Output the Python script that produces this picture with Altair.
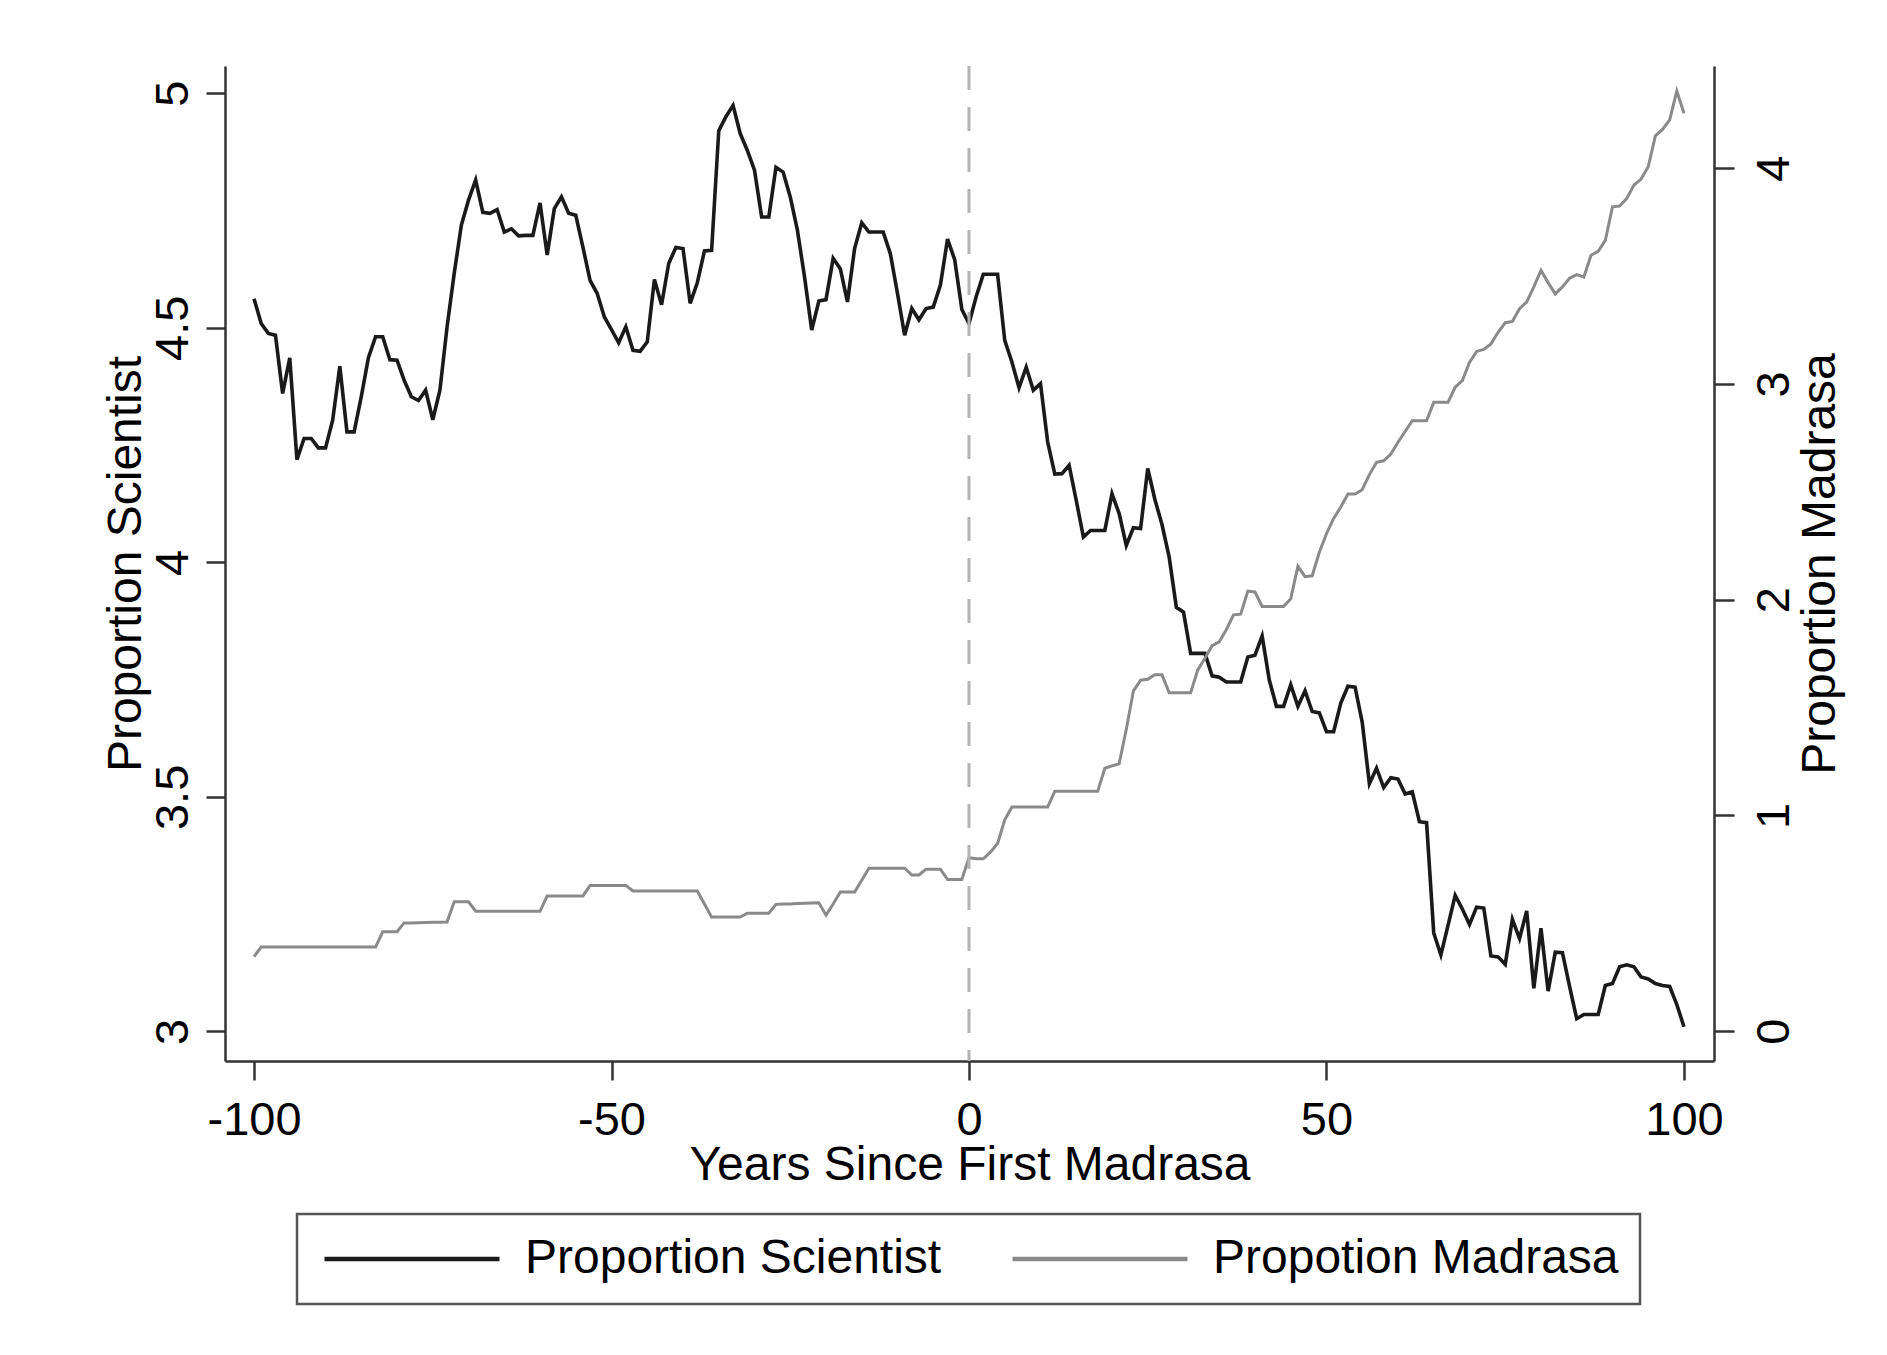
import altair as alt
import pandas as pd

# Years since first madrasa (-100 .. 100, yearly)
years = list(range(-100, 101))

# Proportion Scientist (left axis)
scientist = [
    4.562, 4.509, 4.488, 4.484, 4.360, 4.436, 4.219, 4.264, 4.264, 4.244,
    4.244, 4.303, 4.418, 4.278, 4.278, 4.353, 4.436, 4.481, 4.481, 4.432,
    4.431, 4.388, 4.353, 4.345, 4.367, 4.304, 4.367, 4.502, 4.616, 4.719,
    4.772, 4.815, 4.746, 4.744, 4.752, 4.704, 4.711, 4.696, 4.697, 4.697,
    4.766, 4.655, 4.754, 4.779, 4.744, 4.740, 4.672, 4.601, 4.573, 4.523,
    4.496, 4.468, 4.502, 4.452, 4.450, 4.470, 4.603, 4.549, 4.637, 4.671,
    4.669, 4.552, 4.596, 4.664, 4.665, 4.920, 4.950, 4.974, 4.914, 4.878,
    4.836, 4.736, 4.736, 4.842, 4.832, 4.779, 4.708, 4.608, 4.495, 4.557,
    4.560, 4.648, 4.626, 4.555, 4.669, 4.724, 4.704, 4.704, 4.704, 4.658,
    4.573, 4.484, 4.541, 4.517, 4.541, 4.544, 4.591, 4.689, 4.645, 4.539,
    4.509, 4.566, 4.614, 4.614, 4.614, 4.473, 4.427, 4.372, 4.416, 4.367,
    4.381, 4.257, 4.188, 4.189, 4.207, 4.132, 4.054, 4.068, 4.068, 4.068,
    4.146, 4.104, 4.036, 4.074, 4.072, 4.200, 4.134, 4.080, 4.011, 3.904,
    3.894, 3.806, 3.806, 3.806, 3.758, 3.755, 3.745, 3.745, 3.745, 3.798,
    3.802, 3.843, 3.749, 3.693, 3.693, 3.739, 3.693, 3.726, 3.682, 3.679,
    3.639, 3.639, 3.700, 3.736, 3.734, 3.659, 3.528, 3.561, 3.520, 3.541,
    3.538, 3.506, 3.511, 3.447, 3.445, 3.210, 3.163, 3.226, 3.290, 3.261,
    3.228, 3.265, 3.263, 3.161, 3.159, 3.143, 3.239, 3.198, 3.257, 3.092,
    3.220, 3.086, 3.169, 3.168, 3.096, 3.027, 3.036, 3.036, 3.036, 3.098,
    3.102, 3.138, 3.142, 3.138, 3.116, 3.112, 3.102, 3.098, 3.096, 3.057,
    3.010,
]

# Propotion Madrasa (right axis)
madrasa = [
    0.346, 0.390, 0.390, 0.390, 0.390, 0.390, 0.390, 0.390, 0.390, 0.390,
    0.390, 0.390, 0.390, 0.390, 0.390, 0.390, 0.390, 0.390, 0.461, 0.461,
    0.461, 0.502, 0.502, 0.503, 0.504, 0.505, 0.505, 0.506, 0.600, 0.600,
    0.600, 0.556, 0.556, 0.556, 0.556, 0.556, 0.556, 0.556, 0.556, 0.556,
    0.556, 0.627, 0.627, 0.627, 0.627, 0.627, 0.627, 0.676, 0.676, 0.676,
    0.676, 0.676, 0.676, 0.650, 0.650, 0.650, 0.650, 0.650, 0.650, 0.650,
    0.650, 0.650, 0.650, 0.590, 0.529, 0.529, 0.529, 0.529, 0.529, 0.547,
    0.547, 0.547, 0.547, 0.588, 0.590, 0.590, 0.592, 0.593, 0.594, 0.595,
    0.538, 0.590, 0.645, 0.645, 0.645, 0.700, 0.756, 0.756, 0.756, 0.756,
    0.756, 0.756, 0.724, 0.724, 0.751, 0.751, 0.751, 0.703, 0.703, 0.703,
    0.804, 0.799, 0.799, 0.830, 0.870, 0.980, 1.039, 1.039, 1.039, 1.039,
    1.039, 1.039, 1.112, 1.112, 1.112, 1.112, 1.112, 1.112, 1.112, 1.219,
    1.230, 1.240, 1.400, 1.578, 1.627, 1.631, 1.652, 1.652, 1.569, 1.569,
    1.569, 1.569, 1.675, 1.729, 1.787, 1.805, 1.862, 1.930, 1.933, 2.040,
    2.036, 1.969, 1.969, 1.969, 1.969, 2.004, 2.155, 2.107, 2.111, 2.220,
    2.306, 2.377, 2.430, 2.490, 2.490, 2.510, 2.580, 2.637, 2.644, 2.675,
    2.730, 2.780, 2.830, 2.830, 2.830, 2.915, 2.915, 2.915, 2.985, 3.016,
    3.100, 3.151, 3.160, 3.186, 3.240, 3.284, 3.290, 3.349, 3.380, 3.450,
    3.527, 3.470, 3.418, 3.450, 3.490, 3.507, 3.496, 3.597, 3.615, 3.666,
    3.821, 3.825, 3.860, 3.922, 3.950, 4.007, 4.150, 4.180, 4.224, 4.358,
    4.255,
]

series_names = ["Proportion Scientist", "Propotion Madrasa"]
series_colors = ["#1a1a1a", "#8a8a8a"]
x_ticks = [-100, -50, 0, 50, 100]
left_ticks = [3, 3.5, 4, 4.5, 5]
right_ticks = [0, 1, 2, 3, 4]
event_year = [0]

assert len(years) == len(scientist) == len(madrasa)

df = pd.DataFrame({"year": years, "scientist": scientist, "madrasa": madrasa})
df_event = pd.DataFrame({"event": event_year})

FONT = "Liberation Sans"
AXC = "#333333"

x_scale = alt.Scale(domain=[-104.06, 104.2], nice=False, zero=False)
x_axis = alt.Axis(
    values=x_ticks, labelExpr="'' + datum.value", title="Years Since First Madrasa",
    grid=False, tickSize=19, tickWidth=2.5, tickColor=AXC, domainColor=AXC, domainWidth=2.5,
    labelFont=FONT, labelFontSize=47, labelColor="black", labelPadding=54,
    labelBaseline="alphabetic", labelFlush=False, labelOverlap=False,
    titleFont=FONT, titleFontSize=48, titleFontWeight="normal", titleColor="black",
    titleBaseline="alphabetic", titleY=118,
)

# long horizontal legend key: a custom path spanning 10 symbol radii
color = alt.Color(
    "series:N",
    scale=alt.Scale(domain=series_names, range=series_colors),
    legend=alt.Legend(
        title=None, orient="none", legendX=72, legendY=1148, direction="horizontal",
        symbolType="M-1,0H9", symbolSize=1225, symbolStrokeWidth=4.5,
        labelFont=FONT, labelFontSize=48, labelColor="black", labelLimit=1000,
        labelOffset=159, columnPadding=61, padding=21, strokeColor="#555555",
    ),
)

sci = alt.Chart(df).transform_calculate(series="'Proportion Scientist'").mark_line(
    strokeWidth=3.6
).encode(
    x=alt.X("year:Q", scale=x_scale, axis=x_axis),
    y=alt.Y(
        "scientist:Q",
        scale=alt.Scale(domain=[2.937, 5.058], nice=False, zero=False),
        axis=alt.Axis(
            orient="left", values=left_ticks, format="~g", title="Proportion Scientist",
            grid=False, tickSize=19, tickWidth=2.5, tickColor=AXC, domainColor=AXC,
            domainWidth=2.5, labelFont=FONT, labelFontSize=47, labelColor="black",
            labelAngle=270, labelAlign="center", labelBaseline="alphabetic",
            labelPadding=19, labelOverlap=False, labelFlush=False,
            titleFont=FONT, titleFontSize=48, titleFontWeight="normal", titleColor="black",
            titleAngle=270, titleAlign="center", titleBaseline="alphabetic",
            titleX=-85, titleY=497.5,
        ),
    ),
    color=color,
)

mad = alt.Chart(df).transform_calculate(series="'Propotion Madrasa'").mark_line(
    strokeWidth=3
).encode(
    x=alt.X("year:Q", scale=x_scale, axis=x_axis),
    y=alt.Y(
        "madrasa:Q",
        scale=alt.Scale(domain=[-0.138, 4.474], nice=False, zero=False),
        axis=alt.Axis(
            orient="right", values=right_ticks, format="d", title="Proportion Madrasa",
            grid=False, tickSize=20, tickWidth=2.5, tickColor=AXC, domainColor=AXC,
            domainWidth=2.5, labelFont=FONT, labelFontSize=47, labelColor="black",
            labelAngle=270, labelAlign="center", labelBaseline="alphabetic",
            labelPadding=54, labelOverlap=False, labelFlush=False,
            titleFont=FONT, titleFontSize=48, titleFontWeight="normal", titleColor="black",
            titleAngle=270, titleAlign="center", titleBaseline="alphabetic",
            titleX=120, titleY=497.5,
        ),
    ),
    color=color,
)

rule = alt.Chart(df_event).mark_rule(
    color="#b3b3b3", strokeWidth=3, strokeDash=[24, 17]
).encode(x=alt.X("event:Q", scale=x_scale, axis=x_axis))

chart = (
    alt.layer(sci, mad, rule)
    .resolve_scale(y="independent")
    .properties(
        width=1489, height=995,
        padding={"left": 217, "top": 58, "right": 165, "bottom": 286},
        autosize=alt.AutoSizeParams(type="none"),
        background="white",
    )
    .configure_view(strokeWidth=0)
    .configure_legend(strokeWidth=2.5)
)

chart.save("out.html", embed_options={"renderer": "svg", "actions": False})
